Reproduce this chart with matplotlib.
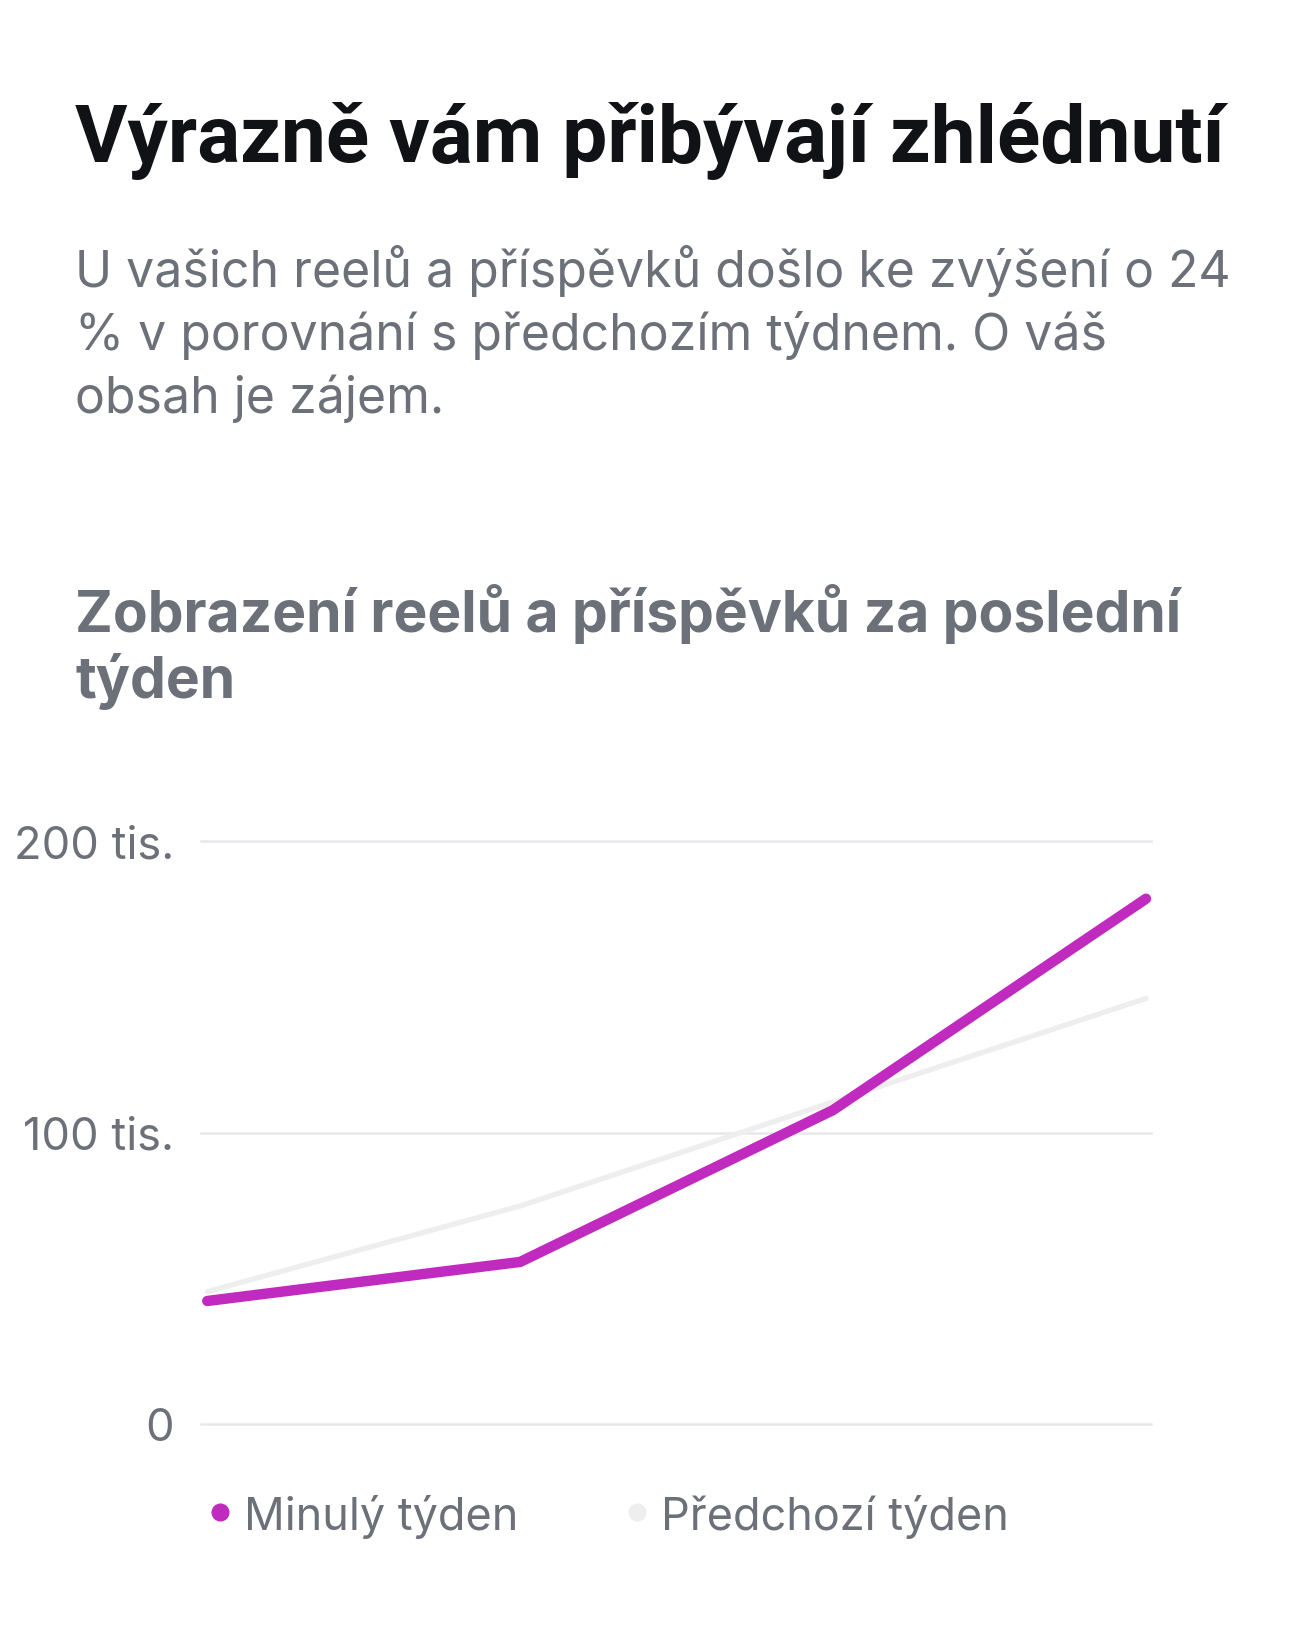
import matplotlib
matplotlib.use("Agg")
import matplotlib.pyplot as plt
from matplotlib.lines import Line2D
import matplotlib.transforms as mtrans

# ---- data ----
days = [0, 1, 2, 3]
last_week = [42.2, 55.6, 107.7, 180.2]       # tis.
previous_week = [45.4, 74.8, 110.5, 146.0]  # tis.
y_ticks = [0, 100, 200]
y_tick_labels = ["0", "100 tis.", "200 tis."]
series_names = ["Minulý týden", "Předchozí týden"]

title = "Výrazně vám přibývají zhlédnutí"
subtitle_lines = ["U vašich reelů a příspěvků došlo ke zvýšení o 24",
                  "% v porovnání s předchozím týdnem. O váš",
                  "obsah je zájem."]
heading_lines = ["Zobrazení reelů a příspěvků za poslední", "týden"]

PURPLE = "#C02ABF"
LIGHT = "#EEEEEF"
GRID = "#E6E8EB"
GRAY_TXT = "#6B7079"
BLACK = "#111215"

W, H = 1301, 1640
fig = plt.figure(figsize=(W / 100, H / 100), dpi=100)
fig.patch.set_facecolor("white")
renderer = fig.canvas.get_renderer()


def fx(px):
    return px / W


def fy(py):
    return 1 - py / H


def fit_text(x, y, s, width_px, ha="left", **kw):
    t = fig.text(fx(x), fy(y), s, ha=ha, va="baseline", fontsize=40, **kw)
    w = t.get_window_extent(renderer).width
    t.set_fontsize(40 * width_px / w)
    return t


# title
fit_text(75, 162, title, 1149, color=BLACK, family=["Roboto", "DejaVu Sans"], weight="bold")
# subtitle
t = fit_text(75, 287, subtitle_lines[0], 1156, color=GRAY_TXT, family=["Inter", "DejaVu Sans"])
sub_fs = t.get_fontsize()
for i, line in enumerate(subtitle_lines[1:], start=1):
    fig.text(fx(75), fy(287 + 63 * i), line, ha="left", va="baseline", fontsize=sub_fs,
             color=GRAY_TXT, family=["Inter", "DejaVu Sans"])
# heading
t = fit_text(75, 632, heading_lines[0], 1108, color=GRAY_TXT, family=["Inter", "DejaVu Sans"], weight="bold")
hfs = t.get_fontsize()
fig.text(fx(75), fy(698), heading_lines[1], ha="left", va="baseline", fontsize=hfs,
         color=GRAY_TXT, weight="bold", family=["Inter", "DejaVu Sans"])

# ---- axes ----
ax_left, ax_right = 201, 1151
ax_top, ax_bottom = 842, 1425
ax = fig.add_axes([fx(ax_left), fy(ax_bottom), (ax_right - ax_left) / W, (ax_bottom - ax_top) / H])
ax.set_xlim(-0.02, 3.016)
ax.set_ylim(0, 200)
for sp in ax.spines.values():
    sp.set_visible(False)
ax.set_xticks([])
ax.set_yticks(y_ticks)
ax.set_yticklabels([])
ax.tick_params(axis="y", length=0)
for v in y_ticks:
    ax.axhline(v, color=GRID, lw=1.8, zorder=1, clip_on=False)

ax.plot(days, previous_week, color=LIGHT, lw=3.8, solid_capstyle="round",
        solid_joinstyle="round", zorder=2, clip_on=False)
ax.plot(days, last_week, color=PURPLE, lw=7.5, solid_capstyle="round",
        solid_joinstyle="round", zorder=3, clip_on=False)

# tick labels
tmp = fig.text(0, 0, "200 tis.", fontsize=40, family=["Inter", "DejaVu Sans"])
tick_fs = 40 * 160 / tmp.get_window_extent(renderer).width
tmp.remove()
offset = mtrans.ScaledTranslation(-27 / 100, 0, fig.dpi_scale_trans)
for v, lab in zip(y_ticks, y_tick_labels):
    ax.text(0.0, v, lab, transform=ax.get_yaxis_transform() + offset, ha="right",
            va="center_baseline", fontsize=tick_fs, color=GRAY_TXT,
            family=["Inter", "DejaVu Sans"])

# legend
leg_y = 1530
dot_y = 1513
fig.add_artist(Line2D([fx(220)], [fy(dot_y)], marker="o", markersize=12, color=PURPLE,
                      transform=fig.transFigure, linestyle="none"))
fit_text(244, leg_y, series_names[0], 274, color=GRAY_TXT, family=["Inter", "DejaVu Sans"])
fig.add_artist(Line2D([fx(637)], [fy(dot_y)], marker="o", markersize=12, color=LIGHT,
                      transform=fig.transFigure, linestyle="none"))
fit_text(661, leg_y, series_names[1], 348, color=GRAY_TXT, family=["Inter", "DejaVu Sans"])

fig.savefig("out.png", dpi=100, facecolor="white")
